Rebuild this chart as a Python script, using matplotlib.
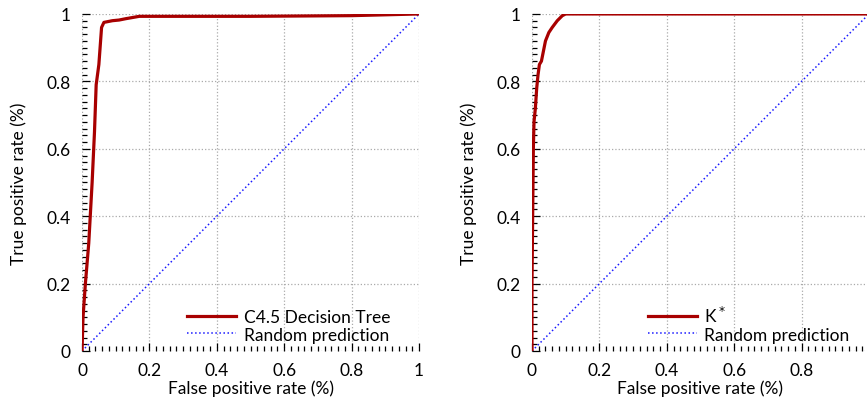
import numpy as np
import matplotlib.pyplot as plt
from matplotlib.ticker import MultipleLocator, FuncFormatter

plt.rcParams['font.family'] = ['Lato', 'DejaVu Sans']
plt.rcParams['font.size'] = 12.5

# ROC for C4.5 decision tree
c45_fpr = [0, 0.003, 0.01, 0.02, 0.03, 0.037, 0.042, 0.05, 0.058, 0.065, 0.09,
           0.11, 0.13, 0.17, 0.5, 0.8, 1.0]
c45_tpr = [0, 0.1, 0.2, 0.32, 0.5, 0.65, 0.79, 0.85, 0.96, 0.975, 0.98,
           0.982, 0.986, 0.993, 0.993, 0.995, 1.0]

# ROC for K*
kstar_fpr = [0, 0.0, 0.002, 0.004, 0.006, 0.01, 0.014, 0.018, 0.022, 0.028,
             0.034, 0.04, 0.05, 0.06, 0.075, 0.09, 0.1, 1.0]
kstar_tpr = [0, 0.2, 0.4, 0.6, 0.68, 0.72, 0.78, 0.82, 0.85, 0.86,
             0.89, 0.92, 0.945, 0.96, 0.98, 0.995, 1.0, 1.0]

random_line = [0, 1]

curves = [
    ('C4.5 Decision Tree', c45_fpr, c45_tpr, 0.312),
    ('K$^*$', kstar_fpr, kstar_tpr, 0.344),
]


def fmt(v, pos):
    if abs(v) < 1e-9:
        return '0'
    if abs(v - 1) < 1e-9:
        return '1'
    return '%.1f' % v


def fmt_cut(v, pos):
    # right panel runs past the figure edge, its "1" is not shown
    if abs(v - 1) < 1e-9:
        return ''
    return fmt(v, pos)


def plot_roc(ax, label, fpr, tpr, leg_x):
    ax.plot(fpr, tpr, color='#a80000', lw=2.3, label=label, zorder=3)
    ax.plot(random_line, random_line, color='#1a1aff', lw=1.1, ls=':', label='Random prediction', zorder=2)
    ax.set_xlim(0, 1)
    ax.set_ylim(0, 1)
    for s in ax.spines.values():
        s.set_visible(False)
    ax.xaxis.set_major_locator(MultipleLocator(0.2))
    ax.yaxis.set_major_locator(MultipleLocator(0.2))
    ax.xaxis.set_minor_locator(MultipleLocator(0.02))
    ax.yaxis.set_minor_locator(MultipleLocator(0.02))
    ax.xaxis.set_major_formatter(FuncFormatter(fmt))
    ax.yaxis.set_major_formatter(FuncFormatter(fmt))
    ax.tick_params(which='both', direction='in', color='black', width=0.9, pad=8)
    ax.tick_params(which='major', length=6)
    ax.tick_params(which='minor', length=3.5)
    ax.grid(True, which='major', color='#aaaaaa', ls=':', lw=0.9)
    ax.set_xlabel('False positive rate (%)', labelpad=1)
    ax.set_ylabel('True positive rate (%)', labelpad=14)
    ax.legend(loc='lower left', bbox_to_anchor=(leg_x, 0.025), frameon=False,
              handlelength=2.8, borderaxespad=0, borderpad=0,
              labelspacing=0.1, handletextpad=0.45)


fig = plt.figure(figsize=(8.67, 4.10), dpi=100)
ax1 = fig.add_axes([0.0946, 0.1415, 0.3887, 0.822])
ax2 = fig.add_axes([0.6136, 0.1415, 0.3887, 0.822])

for ax, (label, fpr, tpr, leg_x) in zip([ax1, ax2], curves):
    plot_roc(ax, label, fpr, tpr, leg_x)

ax2.xaxis.set_major_formatter(FuncFormatter(fmt_cut))

fig.savefig('out.png', dpi=100)
